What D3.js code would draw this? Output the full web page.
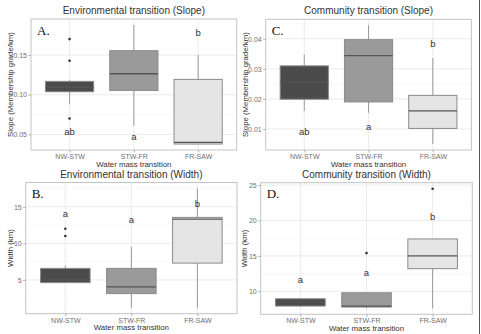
<!DOCTYPE html>
<html>
<head>
<meta charset="utf-8">
<script src="https://cdn.jsdelivr.net/npm/d3@7"></script>
<style>
  body { margin: 0; background: #fff; }
  svg { display: block; font-family: "Liberation Sans", Arial, sans-serif; }
</style>
</head>
<body>
<svg width="481" height="334"></svg>
<script>
var svg = d3.select("svg");

// categories shared by every panel
var categories = ["NW-STW", "STW-FR", "FR-SAW"];
var fills = ["#4b4b4b", "#9a9a9a", "#e5e5e5"];

// box stats per category: [whisker low, q1, median, q3, whisker high]
var envSlopeStats = [
  [0.088, 0.1037, 0.1095, 0.1168, 0.1185],
  [0.061, 0.1054, 0.1264, 0.1554, 0.1878],
  [0.0379, 0.0379, 0.0400, 0.1193, 0.1500]
];
var envSlopeOutliers = [[0.170, 0.1428, 0.070], [], []];
var envSlopeLetters = ["ab", "a", "b"];
var envSlopeLetterY = [0.0534, 0.047, 0.178];
var envSlopeTicks = [0.05, 0.10, 0.15];

var comSlopeStats = [
  [0.0160, 0.0199, 0.0257, 0.0310, 0.0347],
  [0.0154, 0.0190, 0.0344, 0.0397, 0.0445],
  [0.0050, 0.0102, 0.0160, 0.0212, 0.0336]
];
var comSlopeOutliers = [[], [], []];
var comSlopeLetters = ["ab", "a", "b"];
var comSlopeLetterY = [0.0093, 0.0108, 0.0385];
var comSlopeTicks = [0.01, 0.02, 0.03, 0.04];

var envWidthStats = [
  [4.60, 4.63, 5.00, 6.58, 6.95],
  [1.20, 3.13, 4.05, 6.58, 9.50],
  [1.20, 7.30, 13.30, 13.55, 17.50]
];
var envWidthOutliers = [[12.0, 11.0], [], []];
var envWidthLetters = ["a", "a", "b"];
var envWidthLetterY = [14.1, 13.2, 15.5];
var envWidthTicks = [5, 10, 15];

var comWidthStats = [
  [7.85, 7.92, 8.48, 8.95, 9.00],
  [7.60, 7.78, 7.92, 9.80, 9.80],
  [7.60, 13.20, 15.00, 17.40, 17.40]
];
var comWidthOutliers = [[], [15.4], [24.5]];
var comWidthLetters = ["a", "a", "b"];
var comWidthLetterY = [11.7, 12.7, 20.5];
var comWidthTicks = [10, 15, 20, 25];

var panels = [
  { tag: "A.", title: "Environmental transition (Slope)", ylab: "Slope (Membership grade/km)",
    stats: envSlopeStats, outliers: envSlopeOutliers, letters: envSlopeLetters, letterY: envSlopeLetterY,
    ticks: envSlopeTicks, fmt: ".2f", box: [31, 19, 236.7, 150], ylabX: 10, xAxis: true },
  { tag: "C.", title: "Community transition (Slope)", ylab: "Slope (Membership grade/km)",
    stats: comSlopeStats, outliers: comSlopeOutliers, letters: comSlopeLetters, letterY: comSlopeLetterY,
    ticks: comSlopeTicks, fmt: ".2f", box: [265.7, 19.3, 471.4, 150], ylabX: 245, xAxis: true },
  { tag: "B.", title: "Environmental transition (Width)", ylab: "Width (km)",
    stats: envWidthStats, outliers: envWidthOutliers, letters: envWidthLetters, letterY: envWidthLetterY,
    ticks: envWidthTicks, fmt: "d", box: [25.7, 182.5, 237, 313.7], ylabX: 10, xAxis: true },
  { tag: "D.", title: "Community transition (Width)", ylab: "Width (km)",
    stats: comWidthStats, outliers: comWidthOutliers, letters: comWidthLetters, letterY: comWidthLetterY,
    ticks: comWidthTicks, fmt: "d", box: [260.7, 182.7, 472.3, 314.3], ylabX: 244, xAxis: true }
];

panels.forEach(drawPanel);

// thin frame edge on the right side of the figure
svg.append("line")
  .attr("x1", 479.5).attr("x2", 479.5).attr("y1", 0).attr("y2", 334)
  .attr("stroke", "#555").attr("stroke-width", 1);

function drawPanel(p) {
  var x0 = p.box[0], y0 = p.box[1], x1 = p.box[2], y1 = p.box[3];

  // y domain like ggplot: data range plus 5% each side
  var vals = [];
  p.stats.forEach(function(s) { vals = vals.concat(s); });
  p.outliers.forEach(function(o) { vals = vals.concat(o); });
  var lo = d3.min(vals), hi = d3.max(vals), pad = (hi - lo) * 0.05;

  var y = d3.scaleLinear().domain([lo - pad, hi + pad]).range([y1, y0]);
  var x = d3.scalePoint().domain(categories).range([x0, x1]).padding(0.6);
  var step = x.step();
  var bw = step * 0.75;

  var g = svg.append("g");

  // minor grid
  var minor = [];
  for (var i = 0; i < p.ticks.length + 1; i++) {
    var d = p.ticks[1] - p.ticks[0];
    var m = p.ticks[0] - d / 2 + i * d;
    if (m > y.domain()[0] && m < y.domain()[1]) minor.push(m);
  }
  g.selectAll(".minor").data(minor).enter().append("line")
    .attr("x1", x0).attr("x2", x1)
    .attr("y1", function(d) { return y(d); }).attr("y2", function(d) { return y(d); })
    .attr("stroke", "#f3f3f3").attr("stroke-width", 0.5);

  // major grid
  g.selectAll(".hgrid").data(p.ticks).enter().append("line")
    .attr("x1", x0).attr("x2", x1)
    .attr("y1", function(d) { return y(d); }).attr("y2", function(d) { return y(d); })
    .attr("stroke", "#e6e6e6").attr("stroke-width", 0.8);
  g.selectAll(".vgrid").data(categories).enter().append("line")
    .attr("y1", y0).attr("y2", y1)
    .attr("x1", function(d) { return x(d); }).attr("x2", function(d) { return x(d); })
    .attr("stroke", "#e6e6e6").attr("stroke-width", 0.8);

  // whiskers
  var boxes = g.selectAll(".box").data(p.stats).enter().append("g");
  boxes.append("line")
    .attr("x1", function(d, i) { return x(categories[i]); })
    .attr("x2", function(d, i) { return x(categories[i]); })
    .attr("y1", function(d) { return y(d[0]); })
    .attr("y2", function(d) { return y(d[4]); })
    .attr("stroke", "#9a9a9a").attr("stroke-width", 1);
  boxes.append("rect")
    .attr("x", function(d, i) { return x(categories[i]) - bw / 2; })
    .attr("width", bw)
    .attr("y", function(d) { return y(d[3]); })
    .attr("height", function(d) { return y(d[1]) - y(d[3]); })
    .attr("fill", function(d, i) { return fills[i]; })
    .attr("stroke", "#8a8a8a").attr("stroke-width", 1);
  boxes.append("line")
    .attr("x1", function(d, i) { return x(categories[i]) - bw / 2; })
    .attr("x2", function(d, i) { return x(categories[i]) + bw / 2; })
    .attr("y1", function(d) { return y(d[2]); })
    .attr("y2", function(d) { return y(d[2]); })
    .attr("stroke", "#555").attr("stroke-width", 1.3);

  // outliers
  p.outliers.forEach(function(o, i) {
    g.selectAll(null).data(o).enter().append("circle")
      .attr("cx", x(categories[i]))
      .attr("cy", function(d) { return y(d); })
      .attr("r", 1.3)
      .attr("fill", "#333");
  });

  // significance letters
  g.selectAll(".letter").data(p.letters).enter().append("text")
    .attr("x", function(d, i) { return x(categories[i]); })
    .attr("y", function(d, i) { return y(p.letterY[i]); })
    .attr("dy", "0.36em")
    .attr("text-anchor", "middle")
    .attr("font-size", "9.5px")
    .attr("fill", "#333")
    .text(function(d) { return d; });

  // panel border
  g.append("rect")
    .attr("x", x0).attr("y", y0)
    .attr("width", x1 - x0).attr("height", y1 - y0)
    .attr("fill", "none").attr("stroke", "#c4c4c4").attr("stroke-width", 1);

  // axes
  var yAxis = g.append("g")
    .attr("transform", "translate(" + x0 + ",0)")
    .call(d3.axisLeft(y).tickValues(p.ticks).tickFormat(d3.format(p.fmt)).tickSize(2.5).tickPadding(1.5));
  var xAxis = g.append("g")
    .attr("transform", "translate(0," + y1 + ")")
    .call(d3.axisBottom(x).tickSize(2.5).tickPadding(1.5));
  [yAxis, xAxis].forEach(function(a) {
    a.select(".domain").remove();
    a.selectAll(".tick line").attr("stroke", "#b0b0b0");
    a.selectAll(".tick text").attr("fill", "#707070").attr("font-size", "7px")
      .attr("font-family", "Liberation Sans, Arial, sans-serif");
  });

  // axis titles
  g.append("text")
    .attr("x", (x0 + x1) / 2).attr("y", y1 + 16.5)
    .attr("text-anchor", "middle").attr("font-size", "7.8px").attr("fill", "#333")
    .text("Water mass transition");
  g.append("text")
    .attr("transform", "translate(" + (p.ylabX + 2.5) + "," + ((y0 + y1) / 2) + ") rotate(-90)")
    .attr("text-anchor", "middle").attr("font-size", "7.8px").attr("fill", "#333")
    .text(p.ylab);

  // title
  g.append("text")
    .attr("x", (x0 + x1) / 2).attr("y", y0 - 5)
    .attr("text-anchor", "middle").attr("font-size", "10px").attr("fill", "#333")
    .text(p.title);

  // panel tag
  g.append("text")
    .attr("x", x0 + 6).attr("y", y0 + 15.5)
    .attr("font-family", "Liberation Serif, Times New Roman, serif")
    .attr("font-size", "13px").attr("fill", "#111")
    .text(p.tag);
}
</script>
</body>
</html>
